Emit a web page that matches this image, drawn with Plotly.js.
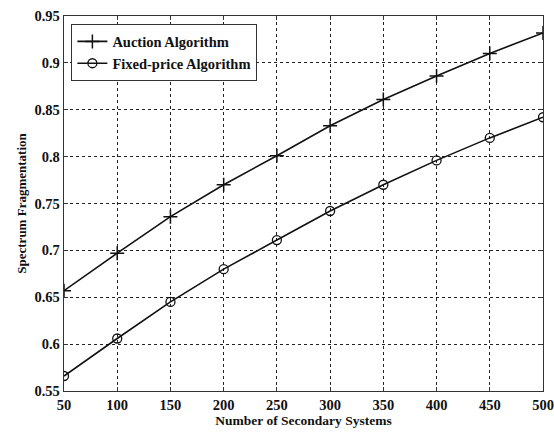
<!DOCTYPE html>
<html><head><meta charset="utf-8">
<script src="https://cdn.plot.ly/plotly-3.0.1.min.js"></script>
<style>html,body{margin:0;padding:0;background:#fff}#chart{width:554px;height:432px}</style>
</head><body><div id="chart"></div>
<script>
const secondarySystems = [50, 100, 150, 200, 250, 300, 350, 400, 450, 500];
const auctionAlgorithm = [0.657, 0.697, 0.736, 0.770, 0.801, 0.833, 0.861, 0.886, 0.910, 0.932];
const fixedPriceAlgorithm = [0.566, 0.606, 0.645, 0.680, 0.711, 0.742, 0.770, 0.796, 0.820, 0.842];
const xTicks = [50, 100, 150, 200, 250, 300, 350, 400, 450, 500];
const yTicks = [0.55, 0.6, 0.65, 0.7, 0.75, 0.8, 0.85, 0.9, 0.95];
const yTickText = ['0.55', '0.6', '0.65', '0.7', '0.75', '0.8', '0.85', '0.9', '0.95'];

const font = 'Liberation Serif, Times New Roman, serif';
const traces = [
  {x: secondarySystems, y: auctionAlgorithm, name: 'Auction Algorithm', mode: 'lines+markers',
   line: {color: '#111', width: 1.6},
   marker: {symbol: 'cross-thin-open', size: 10, color: '#111', line: {color: '#111', width: 1.5}}},
  {x: secondarySystems, y: fixedPriceAlgorithm, name: 'Fixed-price Algorithm', mode: 'lines+markers',
   line: {color: '#111', width: 1.6},
   marker: {symbol: 'circle-open', size: 9, color: '#111', line: {color: '#111', width: 1.3}}}
];
const axisCommon = {
  showline: true, mirror: 'ticks', linecolor: '#333', linewidth: 1.3,
  showgrid: true, gridcolor: '#222', gridwidth: 1, griddash: '3px,3px',
  ticks: 'inside', ticklen: 4, tickcolor: '#333', zeroline: false,
  ticklabeloverflow: 'allow',
  tickfont: {family: font, size: 14.5, color: '#111', weight: 'bold'}
};
const layout = {
  width: 554, height: 432,
  margin: {l: 64, r: 11, t: 16, b: 41},
  paper_bgcolor: '#fff', plot_bgcolor: '#fff',
  showlegend: true,
  legend: {x: 0.015, y: 0.978, xanchor: 'left', yanchor: 'top',
    bgcolor: '#fff', bordercolor: '#333', borderwidth: 1.2,
    font: {family: font, size: 14.5, color: '#111', weight: 'bold'},
    tracegroupgap: 0, itemwidth: 30},
  xaxis: Object.assign({}, axisCommon, {range: [50, 500], tickvals: xTicks,
    title: {text: 'Number of Secondary Systems', standoff: 3,
      font: {family: font, size: 13.5, color: '#111', weight: 'bold'}}}),
  yaxis: Object.assign({}, axisCommon, {range: [0.55, 0.95], tickvals: yTicks, ticktext: yTickText,
    title: {text: 'Spectrum Fragmentation', standoff: 5,
      font: {family: font, size: 13, color: '#111', weight: 'bold'}}})
};
Plotly.newPlot('chart', traces, layout, {displayModeBar: false, staticPlot: true});
</script></body></html>
